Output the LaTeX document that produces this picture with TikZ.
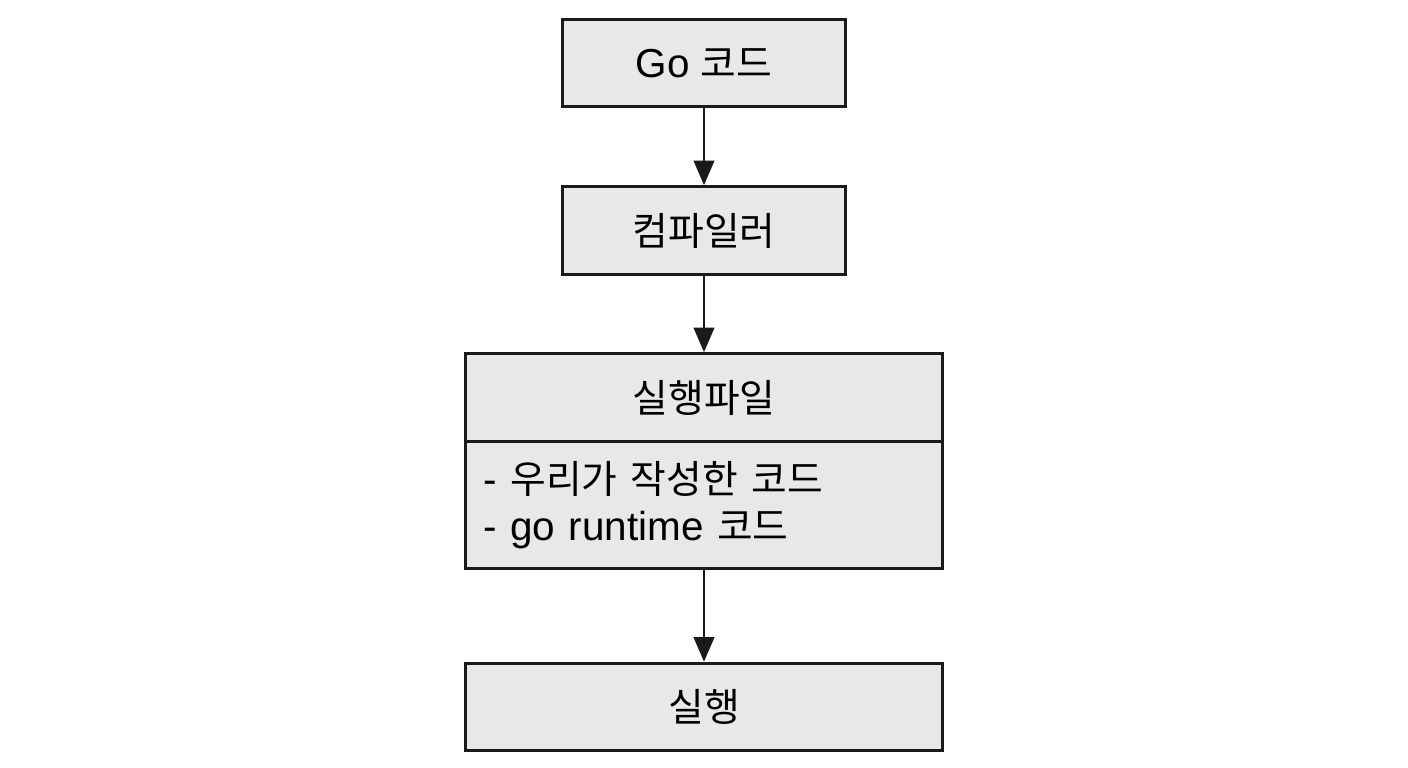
\documentclass[tikz,border=0pt]{standalone}
\usepackage{fontspec}
\setmainfont{Liberation Sans}
\newfontfamily\kr[Scale=0.96]{Noto Sans CJK KR}
\usetikzlibrary{arrows.meta}
\definecolor{boxgray}{HTML}{E8E8E8}
\definecolor{boxline}{HTML}{1A1A1A}

\begin{document}
\begin{tikzpicture}[x=0.01cm, y=-0.01cm,
    box/.style={draw=boxline, line width=0.85pt, fill=boxgray,
        font=\fontsize{11.5}{13.4}\selectfont, inner sep=0pt},
    small/.style={box, minimum width=2.82cm, minimum height=0.875cm},
    wide/.style={box, minimum width=4.77cm, minimum height=0.875cm},
    arr/.style={-{Triangle[length=7pt, width=5.8pt]}, line width=0.85pt, draw=boxline}]
\useasboundingbox (0,0) rectangle (1408,768);
\node[small] (go) at (704,63) {Go {\kr 코드}};
\node[small] (comp) at (704,230.5) {{\kr 컴파일러}};
\node[wide] (exe) at (704,397.5) {{\kr 실행파일}};
% body of the executable box
\node[box, anchor=north, yshift=0.85pt, minimum height=1.27cm, text width=4.41cm,
    inner xsep=0.18cm, align=left] (exebody) at (exe.south)
    {- {\kr 우리가 작성한 코드}\\- go runtime {\kr 코드}};
\node[wide] (run) at (704,707) {{\kr 실행}};
\draw[arr] (go) -- (comp);
\draw[arr] (comp) -- (exe);
\draw[arr] (exebody) -- (run);
\end{tikzpicture}
\end{document}
